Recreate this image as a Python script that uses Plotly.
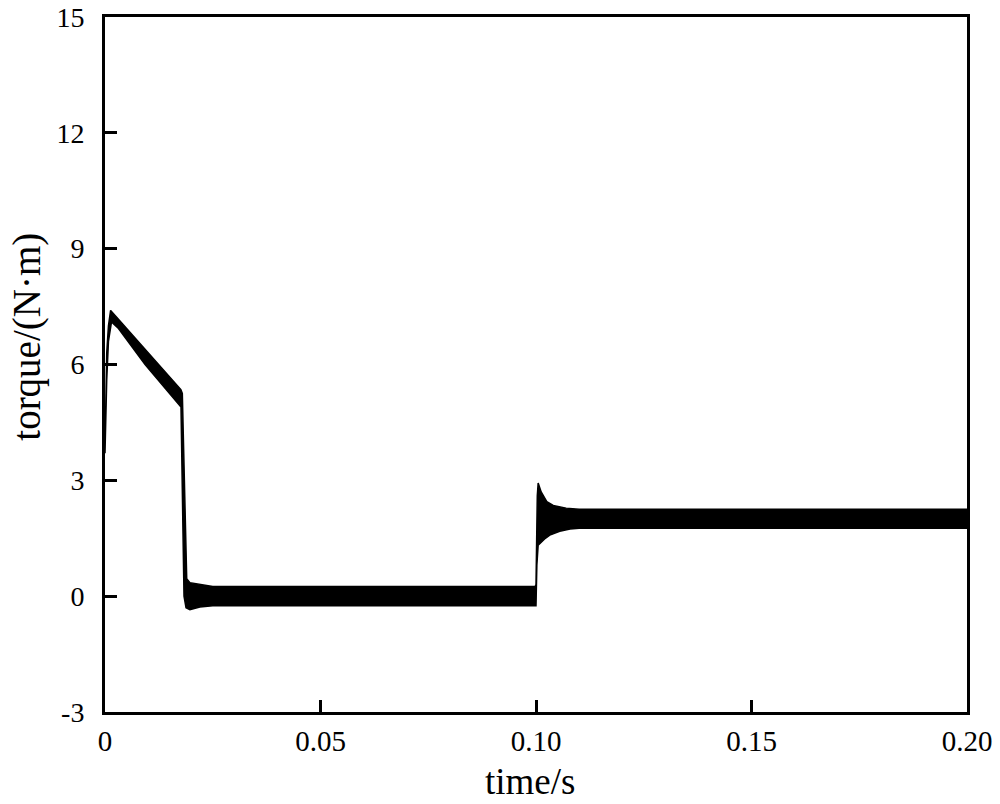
import plotly.graph_objects as go

# Envelope of the oscillating torque signal
t_upper = [0.0, 0.0004, 0.0008, 0.0013, 0.0025, 0.0093, 0.0176, 0.01794,
           0.01896, 0.0197, 0.022, 0.025, 0.0998, 0.1000, 0.1003, 0.1005,
           0.1012, 0.1025, 0.104, 0.107, 0.110, 0.2]
v_upper = [3.8, 6.3, 7.0, 7.4, 7.25, 6.4, 5.35, 5.25,
           0.45, 0.35, 0.3, 0.25, 0.25, 0.3, 2.6, 2.93,
           2.7, 2.45, 2.35, 2.28, 2.25, 2.25]

t_lower = [0.0, 0.0004, 0.0008, 0.0015, 0.0030, 0.0093, 0.01763,
           0.01833, 0.0188, 0.0197, 0.022, 0.025, 0.1000, 0.1002,
           0.1005, 0.1020, 0.1032, 0.1055, 0.1079, 0.110, 0.2]
v_lower = [3.7, 5.6, 6.6, 7.1, 6.95, 6.0, 4.9,
           0.0, -0.3, -0.35, -0.28, -0.25, -0.25, 0.8,
           1.32, 1.48, 1.58, 1.68, 1.74, 1.76, 1.76]

x_ticks = [0, 0.05, 0.10, 0.15, 0.20]
x_labels = ["0", "0.05", "0.10", "0.15", "0.20"]
y_ticks = [-3, 0, 3, 6, 9, 12, 15]
y_labels = ["-3", "0", "3", "6", "9", "12", "15"]
x_title = "time/s"
y_title = "torque/(N·m)"

poly_t = t_upper + t_lower[::-1]
poly_v = v_upper + v_lower[::-1]

fig = go.Figure()
fig.add_trace(go.Scatter(
    x=poly_t, y=poly_v, mode="lines", fill="toself",
    fillcolor="black", line=dict(color="black", width=1.5),
    hoverinfo="skip", showlegend=False,
))

font_family = "Liberation Serif"
L, R, T, B = 105, 33, 17, 92
fig.update_layout(
    width=1000, height=804,
    margin=dict(l=L, r=R, t=T, b=B, autoexpand=False),
    paper_bgcolor="white", plot_bgcolor="white",
    font=dict(family=font_family, color="black", size=22),
    showlegend=False,
)
fig.update_xaxes(
    range=[0, 0.2], tickvals=x_ticks, ticktext=x_labels, automargin=False,
    showline=True, linecolor="black", linewidth=3, mirror=True,
    ticks="inside", ticklen=12, tickwidth=3, tickcolor="black",
    showgrid=False, zeroline=False, ticklabelstandoff=1,
    tickfont=dict(family=font_family, size=29, color="black"),
)
fig.update_yaxes(
    range=[-3, 15], tickvals=y_ticks, ticktext=y_labels, automargin=False,
    showline=True, linecolor="black", linewidth=3, mirror=True,
    ticks="inside", ticklen=12, tickwidth=3, tickcolor="black",
    showgrid=False, zeroline=False, ticklabelstandoff=12,
    tickfont=dict(family=font_family, size=28, color="black"),
)
fig.add_annotation(
    text=x_title, xref="paper", yref="paper", x=0.493, y=0,
    yshift=-(781 - (804 - B)), xanchor="center", yanchor="middle",
    showarrow=False, font=dict(family=font_family, size=37, color="black"),
)
fig.add_annotation(
    text=y_title, xref="paper", yref="paper", x=0, y=0.54,
    xshift=-(L - 27), xanchor="center", yanchor="middle", textangle=-90,
    showarrow=False, font=dict(family=font_family, size=39, color="black"),
)

fig.write_html("out.html", config={"displayModeBar": False},
               post_script="document.body.style.margin='0';")
